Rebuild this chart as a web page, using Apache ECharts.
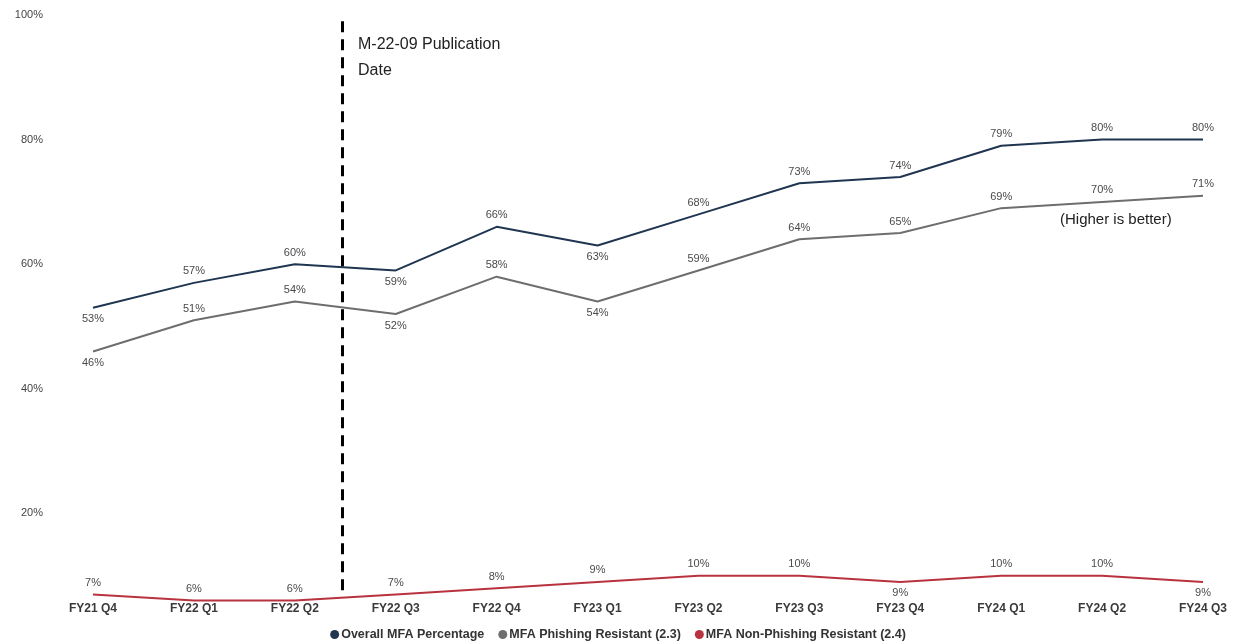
<!DOCTYPE html>
<html>
<head>
<meta charset="utf-8">
<script src="https://cdn.jsdelivr.net/npm/echarts@6/dist/echarts.min.js"></script>
<style>html,body{margin:0;padding:0;background:#fff}#c{width:1236px;height:644px}</style>
</head>
<body>
<div id="c"></div>
<script>
var categories = ['FY21 Q4','FY22 Q1','FY22 Q2','FY22 Q3','FY22 Q4','FY23 Q1','FY23 Q2','FY23 Q3','FY23 Q4','FY24 Q1','FY24 Q2','FY24 Q3'];
var overall = [53,57,60,59,66,63,68,73,74,79,80,80];
var phishingResistant = [46,51,54,52,58,54,59,64,65,69,70,71];
var nonPhishingResistant = [7,6,6,7,8,9,10,10,9,10,10,9];
var overallLabelPos = ['bottom','top','top','bottom','top','bottom','top','top','top','top','top','top'];
var phishLabelPos = ['bottom','top','top','bottom','top','bottom','top','top','top','top','top','top'];
var nonPhishLabelPos = ['top','top','top','top','top','top','top','top','bottom','top','top','bottom'];
var yTicks = [0,20,40,60,80,100];
var seriesNames = ['Overall MFA Percentage','MFA Phishing Resistant (2.3)','MFA Non-Phishing Resistant (2.4)'];
var publicationPos = 2.47; // between FY22 Q2 and FY22 Q3 (category index)

var FONT = '"Liberation Sans", Arial, sans-serif';
function mk(vals, pos) {
  return vals.map(function (v, i) {
    return { value: v, label: { position: pos[i] } };
  });
}
function lineSeries(name, vals, pos, color) {
  return {
    name: name, type: 'line', data: mk(vals, pos),
    symbol: 'circle', symbolSize: 0, showSymbol: true, smooth: false,
    lineStyle: { color: color, width: 2 },
    itemStyle: { color: color },
    label: { show: true, formatter: '{c}%', fontSize: 11, color: '#4a4a4a', fontFamily: FONT, distance: 6 },
    z: 3
  };
}
var chart = echarts.init(document.getElementById('c'), null, { renderer: 'canvas' });
chart.setOption({
  animation: false,
  backgroundColor: '#fff',
  grid: { left: 93, right: 33, top: 15, bottom: 6, containLabel: false },
  legend: {
    bottom: -2, left: 'center',
    data: seriesNames,
    icon: 'circle', itemWidth: 9, itemHeight: 9, itemGap: 14,
    textStyle: { fontSize: 12.5, color: '#333', fontFamily: FONT, fontWeight: 'bold', padding: [0, 0, 0, -3] }
  },
  xAxis: [{
    type: 'category', data: categories, boundaryGap: false,
    offset: -35,
    axisLine: { show: false }, axisTick: { show: false },
    axisLabel: { fontSize: 12, color: '#3a3a3a', fontFamily: FONT, fontWeight: 'bold', margin: 0, interval: 0 },
    splitLine: { show: false }
  }, {
    type: 'value', min: 0, max: categories.length - 1, show: false
  }],
  yAxis: {
    type: 'value', min: yTicks[0], max: yTicks[yTicks.length - 1], interval: 20,
    axisLine: { show: false }, axisTick: { show: false }, splitLine: { show: false },
    axisLabel: {
      fontSize: 11, color: '#444', fontFamily: FONT, margin: 50,
      formatter: function (v) { return v === 0 ? '' : v + '%'; }
    }
  },
  series: [
    lineSeries(seriesNames[0], overall, overallLabelPos, '#1f3550'),
    lineSeries(seriesNames[1], phishingResistant, phishLabelPos, '#6e6e6e'),
    lineSeries(seriesNames[2], nonPhishingResistant, nonPhishLabelPos, '#b8333f'),
    {
      name: 'pub', type: 'line', xAxisIndex: 1, data: [], symbol: 'none',
      markLine: {
        silent: true, symbol: ['none', 'none'],
        lineStyle: { color: '#000', type: [11, 7], width: 3 },
        label: { show: false },
        data: [[{ coord: [publicationPos, 99] }, { coord: [publicationPos, 7] }]]
      }
    }
  ],
  graphic: [
    { type: 'text', left: 358, top: 32, style: { text: 'M-22-09 Publication\nDate', fontSize: 16, lineHeight: 26, fill: '#222', fontFamily: FONT } },
    { type: 'text', left: 1060, top: 212, style: { text: '(Higher is better)', fontSize: 15, fill: '#222', fontFamily: FONT } }
  ]
});
</script>
</body>
</html>
